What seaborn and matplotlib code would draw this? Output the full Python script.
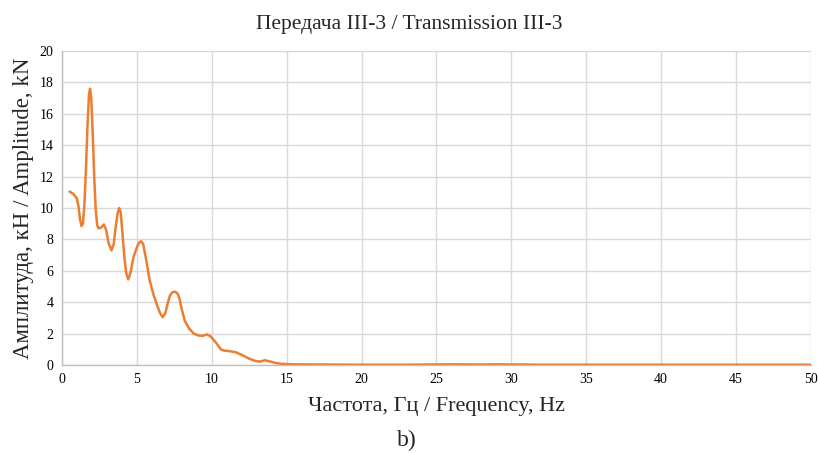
import pandas as pd
import matplotlib.pyplot as plt
import seaborn as sns

# spectrum
freq = [0.5, 0.75, 1.0, 1.1, 1.2, 1.3, 1.4, 1.5, 1.6, 1.7, 1.8, 1.87, 1.95, 2.05, 2.15,
        2.25, 2.35, 2.45, 2.6, 2.8, 2.95, 3.1, 3.3, 3.45, 3.6, 3.72, 3.82, 3.92, 4.02,
        4.15, 4.28, 4.42, 4.58, 4.78, 5.0, 5.15, 5.28, 5.42, 5.6, 5.85, 6.1, 6.35, 6.55,
        6.72, 6.9, 7.05, 7.2, 7.35, 7.55, 7.72, 7.85, 7.98, 8.2, 8.5, 8.8, 9.1, 9.4,
        9.68, 9.95, 10.3, 10.6, 10.8, 11.2, 11.6, 12.1, 12.5, 12.9, 13.2, 13.55, 13.9,
        14.3, 14.7, 15.5, 17, 20, 23, 26, 28, 29, 32, 35, 40, 45, 50]
amp = [11.05, 10.9, 10.6, 10.1, 9.3, 8.85, 9.0, 10.3, 12.5, 15.2, 17.2, 17.6, 17.0, 14.8, 12.0,
       9.9, 8.9, 8.7, 8.75, 8.95, 8.6, 7.8, 7.3, 7.7, 8.9, 9.7, 10.0, 9.7, 8.6,
       7.0, 5.9, 5.45, 5.9, 6.9, 7.5, 7.8, 7.88, 7.7, 6.8, 5.4, 4.5, 3.8, 3.3,
       3.05, 3.3, 3.9, 4.4, 4.62, 4.67, 4.55, 4.2, 3.6, 2.8, 2.3, 2.0, 1.88, 1.86,
       1.95, 1.8, 1.4, 1.0, 0.92, 0.88, 0.81, 0.6, 0.4, 0.26, 0.21, 0.3, 0.22,
       0.12, 0.07, 0.04, 0.03, 0.02, 0.02, 0.04, 0.03, 0.04, 0.02, 0.02, 0.02, 0.02, 0.02]

df = pd.DataFrame({'freq': freq, 'amp': amp})

sns.set_style('white')
plt.rcParams['font.family'] = ['Liberation Serif', 'DejaVu Serif']

fig = plt.figure(figsize=(8.18, 4.53), dpi=100)
ax = fig.add_axes([0.0758, 0.1943, 0.9156, 0.6931])
sns.lineplot(data=df, x='freq', y='amp', ax=ax, color='#ED7D31', linewidth=1.8)

ax.set_xlim(0, 50)
ax.set_ylim(0, 20)
ax.set_xticks(range(0, 51, 5))
ax.set_yticks(range(0, 21, 2))
ax.grid(True, color='#D9D9D9', linewidth=1)
ax.set_axisbelow(True)
for s in ['top', 'right']:
    ax.spines[s].set_visible(False)
for s in ['left', 'bottom']:
    ax.spines[s].set_color('#BFBFBF')
    ax.spines[s].set_linewidth(1)
ax.tick_params(axis='both', length=0, labelsize=10, pad=6, labelcolor='black')

ax.set_xlabel('Частота, Гц / Frequency, Hz', fontsize=16, labelpad=8)
ax.set_ylabel('Амплитуда, кН / Amplitude, kN', fontsize=16.5, labelpad=4)
fig.text(0.5, 0.945, 'Передача III-3 / Transmission III-3', ha='center', va='center', fontsize=15.5)
fig.text(0.497, 0.028, 'b)', ha='center', va='center', fontsize=17)

plt.savefig('out.png', dpi=100)
